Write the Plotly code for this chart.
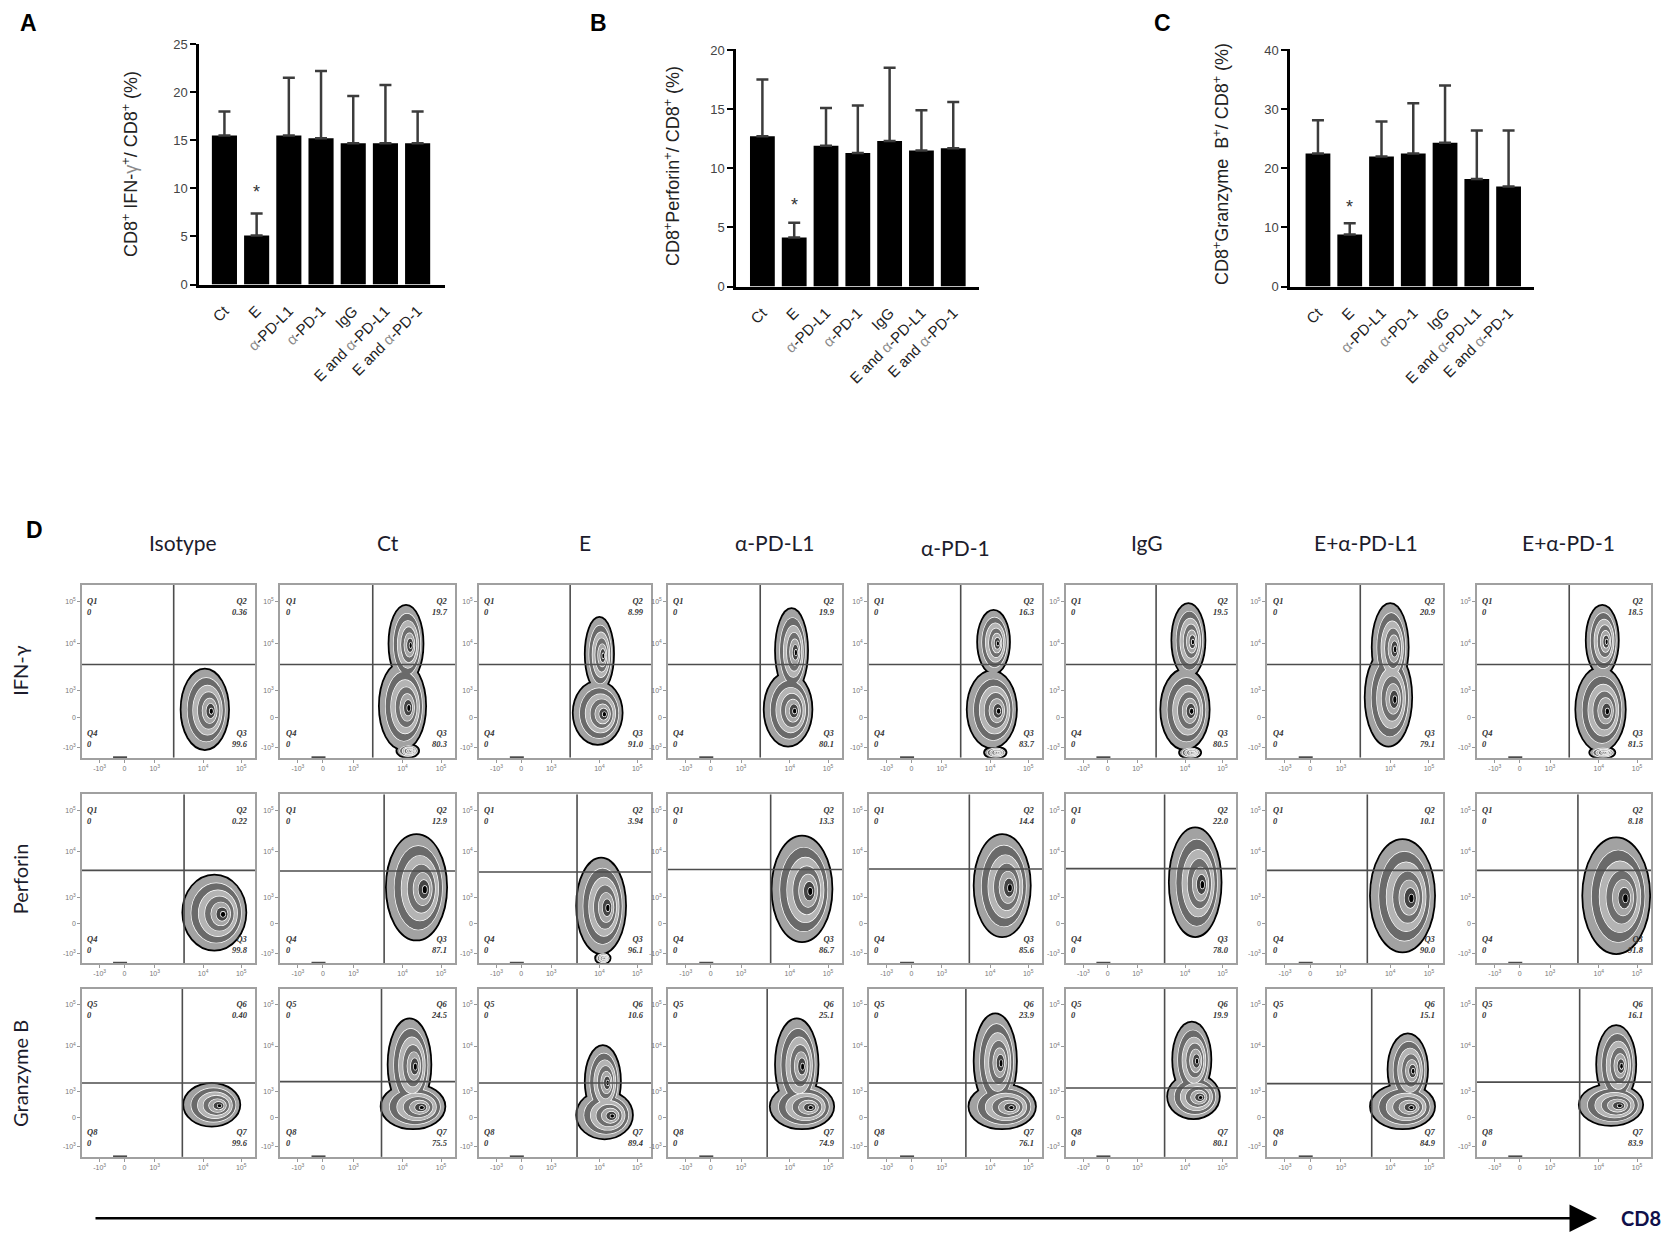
import plotly.graph_objects as go

W, H = 1668, 1237

# ---- bar chart data (A, B, C) ----
groups = ["Ct", "E", "α-PD-L1", "α-PD-1", "IgG", "E and α-PD-L1", "E and α-PD-1"]
ifn_mean = [15.5, 5.1, 15.5, 15.2, 14.7, 14.7, 14.7]
ifn_top = [18.0, 7.4, 21.5, 22.2, 19.6, 20.75, 18.0]
perf_mean = [12.7, 4.15, 11.9, 11.3, 12.3, 11.5, 11.7]
perf_top = [17.5, 5.4, 15.1, 15.3, 18.5, 14.9, 15.6]
gzm_mean = [22.5, 8.8, 22.0, 22.5, 24.3, 18.2, 16.9]
gzm_top = [28.1, 10.7, 27.9, 31.0, 34.0, 26.4, 26.4]
star_y = [9.6, 6.9, 13.5]

# ---- flow cytometry data (D) ----
flow_cols = ["Isotype", "Ct", "E", "α-PD-L1", "α-PD-1", "IgG", "E+α-PD-L1", "E+α-PD-1"]
flow_rows = ["IFN-γ", "Perforin", "Granzyme B"]
quad_names = [["Q1", "Q2", "Q3", "Q4"], ["Q1", "Q2", "Q3", "Q4"], ["Q5", "Q6", "Q7", "Q8"]]
ifn_upper = ["0.36", "19.7", "8.99", "19.9", "16.3", "19.5", "20.9", "18.5"]
ifn_lower = ["99.6", "80.3", "91.0", "80.1", "83.7", "80.5", "79.1", "81.5"]
perf_upper = ["0.22", "12.9", "3.94", "13.3", "14.4", "22.0", "10.1", "8.18"]
perf_lower = ["99.8", "87.1", "96.1", "86.7", "85.6", "78.0", "90.0", "91.8"]
gzm_upper = ["0.40", "24.5", "10.6", "25.1", "23.9", "19.9", "15.1", "16.1"]
gzm_lower = ["99.6", "75.5", "89.4", "74.9", "76.1", "80.1", "84.9", "83.9"]

# axis ticks of the cytometry plots (display units 0-100)
cyto_xticks = [10.2, 24.5, 42, 70, 92]
cyto_yticks = [6, 23.5, 39, 66, 90.5]
cyto_ticktext = ["-10<sup>3</sup>", "0", "10<sup>3</sup>", "10<sup>4</sup>", "10<sup>5</sup>"]

# quadrant gates (x, y) per panel
gate_x = [[53] * 8,
          [59, 59.5, 57, 59, 58, 58, 57, 58],
          [58, 58, 57, 57, 56, 58, 59.5, 59]]
gate_y = [[54] * 8,
          [55, 54.6, 54, 55.5, 55.8, 56, 55, 55],
          [44, 44.8, 44, 44, 44, 41, 43.6, 44.5]]

# cell populations (cx, cy, rx, ry)
ifn_pops = [
    [(71, 28, 13.5, 23)],
    [(70, 30, 13, 25), (72, 66, 9.5, 22), (73, 4, 6, 3.5)],
    [(69, 26, 14, 18), (70, 60, 8, 21)],
    [(69, 28, 13.5, 21), (71, 62, 9, 24)],
    [(71, 28, 14, 22), (72, 67, 9, 18), (73, 3, 6, 3)],
    [(70, 28, 14, 23), (72, 68, 9.5, 21), (73, 3, 6, 3)],
    [(69, 35, 13, 28), (70, 64, 10, 25)],
    [(71, 28, 14, 24), (72, 68, 9, 20), (72, 3, 7, 3)],
]
perf_pops = [
    [(76.5, 30, 18, 22)],
    [(78, 45, 17, 31)],
    [(71, 34, 14, 28), (72, 3, 4, 3)],
    [(77, 44, 17, 31)],
    [(77, 46, 16, 30)],
    [(76, 48, 15, 32)],
    [(77, 40, 18, 33)],
    [(80, 40, 19, 34)],
]
gzm_pops = [
    [(75, 31, 16, 12.5)],
    [(76, 30, 18, 13), (74, 55, 12, 27)],
    [(73, 25, 16, 14), (72, 45, 10, 21)],
    [(77, 30, 18, 13), (74, 55, 12, 27)],
    [(77, 30, 19, 13), (73, 57, 12, 28)],
    [(75, 36, 15, 13), (74, 58, 11, 22)],
    [(77, 30, 18, 13), (80, 52, 11, 21)],
    [(77, 31, 18, 12), (80, 55, 11, 23)],
]
# events piled on the axes
pile_x = [-1.5, 22]
pile_y = [23.5, 0]

rows_data = [(ifn_upper, ifn_lower, ifn_pops),
             (perf_upper, perf_lower, perf_pops),
             (gzm_upper, gzm_lower, gzm_pops)]

# ---- layout geometry (pixels) ----
col_x0 = [82, 280, 479, 668, 869, 1066, 1267, 1477]
col_x1 = [255, 455, 651, 842, 1042, 1236, 1443, 1651]
row_y0 = [585, 797, 994]
row_y1 = [760, 968, 1164]
header_x = [183, 388, 585, 774, 955, 1147, 1366, 1568]
row_label_y = [672, 883, 1080]


def fx(x):
    return x / W


def fy(y):
    return 1 - y / H


def gray_alpha(s):
    return s.replace("α", '<span style="color:#8a8a8a">α</span>')


def paper_text(x, y, text, font, angle=0):
    return dict(x=fx(x), y=fy(y), xref="paper", yref="paper", xanchor="center",
                yanchor="middle", text=text, textangle=angle, showarrow=False, font=font)


fig = go.Figure()
layout = {}
shapes = []
annotations = []

# ---- bar charts ----
bar_specs = [
    (ifn_mean, ifn_top, (199, 445), (281, 37), 25.05, 5, (-0.79, 6.85),
     "CD8<sup>+</sup> IFN-<span style='color:#8a8a8a'>γ</span><sup>+</sup>/ CD8<sup>+</sup> (%)", (130, 159)),
    (perf_mean, perf_top, (736, 979), (283, 43), 20.04, 5, (-0.83, 6.81),
     "CD8<sup>+</sup>Perforin<sup>+</sup>/ CD8<sup>+</sup> (%)", (672, 161)),
    (gzm_mean, gzm_top, (1290, 1534), (283, 43), 40.08, 10, (-0.88, 6.8),
     "CD8<sup>+</sup>Granzyme  B<sup>+</sup>/ CD8<sup>+</sup> (%)", (1221, 159)),
]
for i, (mean, top, xd, yd, ymax, dt, xr, ytitle, tpos) in enumerate(bar_specs):
    n = i + 1
    sx = "" if n == 1 else str(n)
    fig.add_trace(go.Bar(
        x=list(range(len(groups))), y=mean, width=0.78,
        marker=dict(color="black", line=dict(width=0)),
        error_y=dict(type="data", symmetric=False,
                     array=[t - m for t, m in zip(top, mean)],
                     arrayminus=[0] * len(mean),
                     color="#3c3c3c", thickness=2.5, width=6),
        xaxis="x" + sx, yaxis="y" + sx, showlegend=False, hoverinfo="y"))
    layout["xaxis" + sx] = dict(
        domain=[fx(xd[0]), fx(xd[1])], anchor="y" + sx, range=list(xr),
        tickvals=list(range(len(groups))), ticktext=[gray_alpha(g) for g in groups],
        tickangle=-45, tickfont=dict(size=15, color="#222"), ticks="",
        ticklabelstandoff=9,
        showline=True, linecolor="black", linewidth=2.5, showgrid=False, zeroline=False)
    layout["yaxis" + sx] = dict(
        domain=[fy(yd[0]), fy(yd[1])], anchor="x" + sx, range=[0, ymax], dtick=dt,
        tickfont=dict(size=13, color="#444"), ticks="outside", ticklen=6, tickwidth=2,
        tickcolor="black", showline=True, linecolor="black", linewidth=2.5,
        showgrid=False, zeroline=False)
    annotations.append(dict(x=1, y=star_y[i], xref="x" + sx, yref="y" + sx, text="*",
                            showarrow=False, font=dict(size=18, color="#333")))
    annotations.append(paper_text(tpos[0], tpos[1], ytitle, dict(size=18, color="#222"), -90))

# ---- flow cytometry grid ----
LEVELS = [1.0, 0.8, 0.62, 0.46, 0.31, 0.18, 0.07]
FILLS = ["#a2a2a2", "#6a6a6a", "#b4b4b4", "#6e6e6e", "#a6a6a6", "#444444", "#000000"]

for r in range(3):
    upper, lower, pops = rows_data[r]
    for c in range(8):
        n = 4 + r * 8 + c
        xa, ya = "x%d" % n, "y%d" % n
        layout["xaxis%d" % n] = dict(
            domain=[fx(col_x0[c]), fx(col_x1[c])], anchor=ya, range=[0, 100],
            tickvals=cyto_xticks, ticktext=cyto_ticktext,
            tickfont=dict(size=7, color="#777"), ticks="outside", ticklen=3,
            tickcolor="#999", showline=True, mirror=True, linecolor="#a0a0a0",
            linewidth=1.5, showgrid=False, zeroline=False)
        layout["yaxis%d" % n] = dict(
            domain=[fy(row_y1[r]), fy(row_y0[r])], anchor=xa, range=[0, 100],
            tickvals=cyto_yticks, ticktext=cyto_ticktext,
            tickfont=dict(size=7, color="#777"), ticks="outside", ticklen=3,
            tickcolor="#999", showline=True, mirror=True, linecolor="#a0a0a0",
            linewidth=1.5, showgrid=False, zeroline=False)
        fig.add_trace(go.Scatter(
            x=pile_x, y=pile_y, mode="markers", xaxis=xa, yaxis=ya,
            marker=dict(symbol=["square", "line-ew"], size=[5, 10], color="black",
                        line=dict(color="black", width=3)),
            cliponaxis=False, showlegend=False, hoverinfo="skip"))

        lobes = pops[c]
        for k, s in enumerate(LEVELS):
            edge_col = "black" if k == 0 else "white"
            edge_w = 3.5 if k == 0 else 1.3
            # inner contours drift towards the dense lower-right core
            for fill_pass in (False, True):
                for (cx, cy, rx, ry) in lobes:
                    ccx = cx + (1 - s) * 0.3 * rx
                    ccy = cy - (1 - s) * 0.05 * ry
                    shapes.append(dict(
                        type="circle", xref=xa, yref=ya,
                        x0=ccx - rx * s, x1=ccx + rx * s, y0=ccy - ry * s, y1=ccy + ry * s,
                        fillcolor=FILLS[k] if fill_pass else edge_col,
                        line=dict(width=0) if fill_pass else dict(color=edge_col, width=edge_w)))
        # quadrant gates
        shapes.append(dict(type="line", xref=xa, yref=ya, x0=gate_x[r][c], x1=gate_x[r][c],
                           y0=0, y1=100, line=dict(color="#4d4d4d", width=1.6)))
        shapes.append(dict(type="line", xref=xa, yref=ya, x0=0, x1=100,
                           y0=gate_y[r][c], y1=gate_y[r][c], line=dict(color="#4d4d4d", width=1.6)))
        qn = quad_names[r]
        qfont = dict(size=8.5, color="#333", family="Liberation Serif")
        quads = [(2, 95, "left", "top", "%s<br>0" % qn[0]),
                 (97, 95, "right", "top", "%s<br>%s" % (qn[1], upper[c])),
                 (97, 4, "right", "bottom", "%s<br>%s" % (qn[2], lower[c])),
                 (2, 4, "left", "bottom", "%s<br>0" % qn[3])]
        for qx, qy, xan, yan, txt in quads:
            annotations.append(dict(x=qx, y=qy, xref=xa, yref=ya, xanchor=xan, yanchor=yan,
                                    text="<b><i>%s</i></b>" % txt, showarrow=False,
                                    align=xan, font=qfont))

# column headers and row labels
for c, name in enumerate(flow_cols):
    annotations.append(paper_text(header_x[c], 542 if c != 4 else 547, name,
                                  dict(size=21, color="#1c1c2c", family="Lato")))
for r, name in enumerate(flow_rows):
    annotations.append(paper_text(20, row_label_y[r], name,
                                  dict(size=20, color="#1c1c2c", family="Lato"), -90))

# panel letters
for letter, (lx, ly) in zip("ABCD", [(28, 16), (598, 16), (1162, 16), (34, 529)]):
    annotations.append(paper_text(lx, ly, "<b>%s</b>" % letter,
                                  dict(size=23, color="black", family="Liberation Sans")))

# CD8 axis arrow
annotations.append(dict(x=fx(1597), y=fy(1226), xref="paper", yref="paper", ax=94 - 1597, ay=0,
                        text="", showarrow=True, arrowhead=2, arrowsize=2.2, arrowwidth=2.5,
                        arrowcolor="black"))
annotations.append(paper_text(1641, 1226, "<b>CD8</b>",
                              dict(size=20, color="#10104a", family="Lato")))

fig.update_layout(
    width=W, height=H, margin=dict(l=0, r=0, t=0, b=0),
    plot_bgcolor="white", paper_bgcolor="white",
    font=dict(family="Liberation Sans, Arial, sans-serif"),
    shapes=shapes, annotations=annotations, **layout)

fig.write_html("out.html", config={"displayModeBar": False},
               post_script="document.body.style.margin='0';")
